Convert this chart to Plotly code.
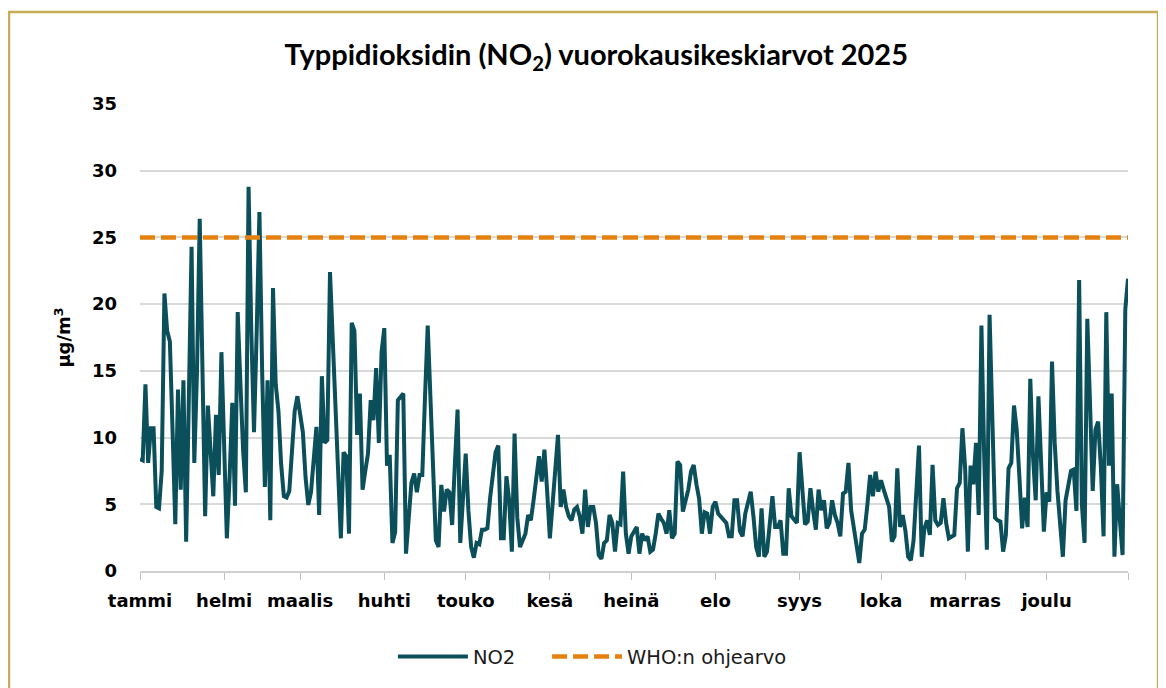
import pandas as pd
import plotly.graph_objects as go

# daily NO2 means (µg/m3), month by month
jan = [8.4, 8.3, 14.0, 8.1, 10.7, 10.7, 4.8, 4.7, 7.5, 20.8,
       18.0, 17.2, 10.5, 3.5, 13.6, 6.1, 14.3, 2.2, 13.0, 24.3,
       8.1, 15.0, 26.4, 13.0, 4.1, 12.4, 9.0, 5.6, 11.7, 7.2, 16.4]
feb = [9.0, 2.45, 7.0, 12.6, 4.9, 19.4, 14.0, 9.0, 5.9, 28.8,
       18.0, 10.4, 18.0, 26.9, 15.0, 6.3, 14.3, 3.8, 21.2, 14.0,
       12.0, 8.0, 5.6, 5.5, 6.0, 9.6, 12.0, 13.1]
mar = [11.5, 10.4, 7.0, 4.95, 5.9, 8.0, 10.8, 4.2, 14.6, 9.6,
       9.8, 22.4, 17.0, 13.1, 7.0, 2.45, 8.9, 8.6, 2.8, 18.6,
       18.0, 10.2, 13.3, 6.1, 7.5, 8.8, 12.8, 11.3, 15.2, 9.6, 16.4]
apr = [18.2, 7.9, 8.7, 2.1, 2.9, 12.8, 13.1, 13.3, 1.3, 4.0,
       6.6, 7.3, 5.9, 7.2, 7.2, 13.0, 18.4, 13.0, 8.0, 2.3,
       1.8, 6.45, 4.45, 6.1, 5.9, 3.45, 8.0, 12.1, 2.1, 5.5]
may = [8.8, 4.5, 1.8, 1.0, 2.1, 2.0, 3.1, 3.1, 3.2, 5.5,
       7.5, 8.9, 9.4, 2.45, 2.45, 7.1, 5.3, 1.45, 10.3, 4.0,
       1.8, 2.3, 2.8, 4.2, 3.8, 5.3, 7.0, 8.6, 6.7, 9.1, 6.0]
jun = [2.45, 5.0, 7.5, 10.2, 4.8, 6.1, 4.8, 4.1, 3.8, 4.6,
       4.8, 4.1, 2.8, 6.1, 3.3, 4.8, 4.8, 3.6, 1.2, 0.9,
       2.1, 2.3, 4.2, 3.6, 1.45, 3.6, 3.5, 7.45, 2.8, 1.3]
jul = [2.6, 2.9, 3.3, 1.3, 2.8, 2.3, 2.6, 1.45, 1.6, 2.8,
       4.3, 3.9, 3.6, 2.8, 4.55, 2.45, 2.8, 8.2, 7.95, 4.45,
       5.3, 6.1, 7.45, 7.95, 6.5, 5.4, 2.8, 4.4, 4.3, 2.8, 4.8]
aug = [5.2, 4.3, 4.1, 3.8, 3.6, 2.6, 2.6, 5.3, 5.3, 3.0,
       2.6, 4.3, 5.2, 5.95, 4.1, 1.8, 1.07, 4.7, 1.07, 1.45,
       3.5, 5.6, 3.3, 3.3, 3.8, 1.3, 1.3, 6.2, 4.1, 3.8, 3.6]
sep = [8.9, 6.0, 3.5, 3.7, 6.2, 4.5, 3.1, 6.1, 4.55, 5.3,
       3.2, 3.6, 5.3, 4.2, 3.6, 2.6, 5.8, 5.95, 8.1, 4.55,
       3.1, 1.8, 0.6, 2.8, 3.1, 5.0, 7.2, 5.6, 7.45, 5.95]
oct = [6.8, 6.1, 5.5, 4.8, 2.2, 2.6, 7.7, 3.3, 4.2, 3.0,
       1.07, 0.8, 2.3, 5.5, 9.4, 1.07, 3.2, 3.8, 2.7, 7.95,
       3.8, 3.45, 3.6, 5.45, 3.6, 2.45, 2.6, 2.7, 6.2, 6.6, 10.7]
nov = [7.7, 1.45, 7.9, 6.5, 9.6, 4.2, 18.4, 8.8, 1.6, 19.2,
       10.0, 4.0, 3.8, 3.7, 1.45, 2.7, 7.7, 8.1, 12.4, 10.6,
       7.0, 3.2, 5.5, 3.3, 14.4, 8.6, 5.3, 13.1, 8.1, 2.95]
dec = [5.9, 5.2, 15.7, 9.6, 6.0, 3.2, 1.07, 5.3, 6.5, 7.5,
       7.6, 4.5, 21.8, 5.0, 2.1, 18.9, 12.6, 6.0, 10.6, 11.2,
       7.8, 2.6, 19.4, 7.9, 13.3, 1.07, 6.5, 4.0, 1.2, 19.6, 21.9]

no2 = jan + feb + mar + apr + may + jun + jul + aug + sep + oct + nov + dec
days = pd.date_range("2025-01-01", "2025-12-31", freq="D")

who_limit = 25
month_names = ["tammi", "helmi", "maalis", "huhti", "touko", "kesä",
               "heinä", "elo", "syys", "loka", "marras", "joulu"]
month_starts = list(pd.date_range("2025-01-01", periods=12, freq="MS"))

fig = go.Figure()
fig.add_trace(go.Scatter(
    x=days, y=no2, mode="lines", name="NO2",
    line=dict(color="#0B4F5B", width=4), legend="legend",
))
fig.add_trace(go.Scatter(
    x=[days[0], days[-1]], y=[who_limit, who_limit], mode="lines",
    name="WHO:n ohjearvo",
    line=dict(color="#E5820F", width=4.5, dash="15px,6px"), legend="legend2",
))

# tan frame around the chart
fig.add_shape(type="rect", xref="paper", yref="paper",
              x0=-0.1326, x1=1.0304, y0=-0.3, y1=1.197,
              line=dict(color="#C8AC5A", width=2.5), fillcolor="rgba(0,0,0,0)")

legend_style = dict(
    orientation="h", xanchor="left", y=-0.184, yanchor="middle",
    font=dict(size=19.5, family="DejaVu Sans", color="#1a1a1a"),
    itemwidth=70, bgcolor="rgba(0,0,0,0)",
)

# page body has an 8px margin, so the figure is a bit smaller than the window
fig.update_layout(
    width=1158, height=680,
    margin=dict(l=132, r=38, t=96, b=117),
    paper_bgcolor="white", plot_bgcolor="white",
    font=dict(family="DejaVu Sans", color="#000000"),
    title=dict(
        text="<b>Typpidioksidin (NO<sub>2</sub>) vuorokausikeskiarvot 2025</b>",
        x=0.508, xref="container", xanchor="center",
        y=0.931, yref="container", yanchor="middle",
        font=dict(size=29, family="Lato", color="#000000"),
    ),
    showlegend=True,
    legend=dict(legend_style, x=0.256),
    legend2=dict(legend_style, x=0.412),
)

fig.update_xaxes(
    range=[days[0], days[-1]],
    tickvals=month_starts + [days[-1]],
    ticktext=month_names + [" "],
    tickfont=dict(size=18, family="DejaVu Sans", weight="bold", color="#000000"),
    ticks="outside", ticklen=7, tickcolor="#BFBFBF",
    showline=True, linecolor="#D0D0D0", linewidth=1.5,
    showgrid=False, zeroline=False,
    ticklabelstandoff=6,
)
fig.update_yaxes(
    range=[0, 35], dtick=5,
    tickfont=dict(size=18, family="DejaVu Sans", weight="bold", color="#000000"),
    tickformat="d",
    showgrid=True, gridcolor="#D9D9D9", gridwidth=1.5,
    zeroline=False, showline=False,
    ticklabelstandoff=22,
    title=dict(text="<b>µg/m<sup>3</sup></b>",
               font=dict(size=18, family="DejaVu Sans"), standoff=16),
)

fig.write_html("out.html")
